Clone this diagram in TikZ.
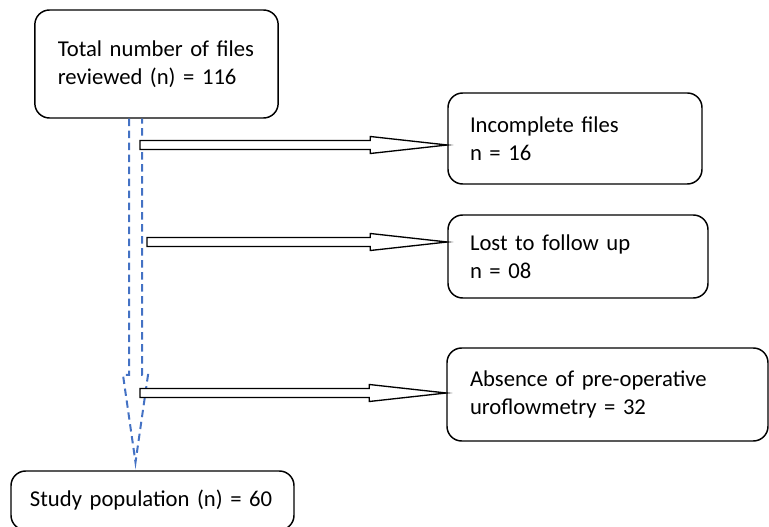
\documentclass[tikz,border=0pt]{standalone}
\usepackage{fontspec}
\setmainfont{Carlito}
\usetikzlibrary{calc}
\definecolor{flowblue}{HTML}{4472C4}
\tikzset{
  box/.style={draw, rounded corners=11pt, line width=1.1pt, align=left,
    inner ysep=0pt, font=\fontsize{17}{21}\selectfont},
  flowline/.style={draw=flowblue, line width=1.5pt, dash pattern=on 5.5pt off 3.5pt},
  hollow/.style={draw, fill=white, line width=1pt},
}
% block arrow from a point on the flow to a box
\newcommand{\hollowarrow}[2]{%
  \draw[hollow] ($(#1)+(0,-4.5)$) -- ($(#2)+(-77,-4.5)$) -- ($(#2)+(-77,-8.5)$)
    -- (#2) -- ($(#2)+(-77,8.5)$) -- ($(#2)+(-77,4.5)$) -- ($(#1)+(0,4.5)$) -- cycle;}
\begin{document}
\begin{tikzpicture}[x=0.75pt,y=-0.75pt]
  \useasboundingbox (0,0) rectangle (769,527);
  \node[box, text width=148pt, inner xsep=17.25pt, minimum height=81pt] (total) at (156.5,64)
    {Total number of files\\reviewed (n) = 116};
  \node[box, text width=157.5pt, inner xsep=16.5pt, minimum height=68.25pt] (incomplete) at (575,138.5)
    {Incomplete files\\n = 16};
  \node[box, text width=162pt, inner xsep=16.5pt, minimum height=62.25pt] (lost) at (578,256.5)
    {Lost to follow up\\n = 08};
  \node[box, text width=206.25pt, inner xsep=17.25pt, minimum height=69.75pt] (absence) at (607.5,394.5)
    {Absence of pre-operative\\uroflowmetry = 32};
  \node[box, text width=183.75pt, inner xsep=14.25pt, minimum height=44.25pt] (study) at (152.5,500.5)
    {Study population (n) = 60};

  % dashed flow arrow
  \coordinate (flow) at (135.5,0);
  \coordinate (tip) at ($(flow |- study.north)+(0,-8)$);
  \draw[flowline] ($(flow |- total.south)+(-6.5,0)$) -- (129,375) -- (123,375) -- (tip)
    -- (148,375) -- (142,375) -- ($(flow |- total.south)+(6.5,0)$);

  \coordinate (b1) at (140,145);
  \coordinate (b2) at (147,242);
  \coordinate (b3) at (140,393);
  \coordinate (t1) at (b1 -| incomplete.west);
  \coordinate (t2) at (b2 -| lost.west);
  \coordinate (t3) at (b3 -| absence.west);
  \hollowarrow{b1}{t1}
  \hollowarrow{b2}{t2}
  \hollowarrow{b3}{t3}
\end{tikzpicture}
\end{document}
